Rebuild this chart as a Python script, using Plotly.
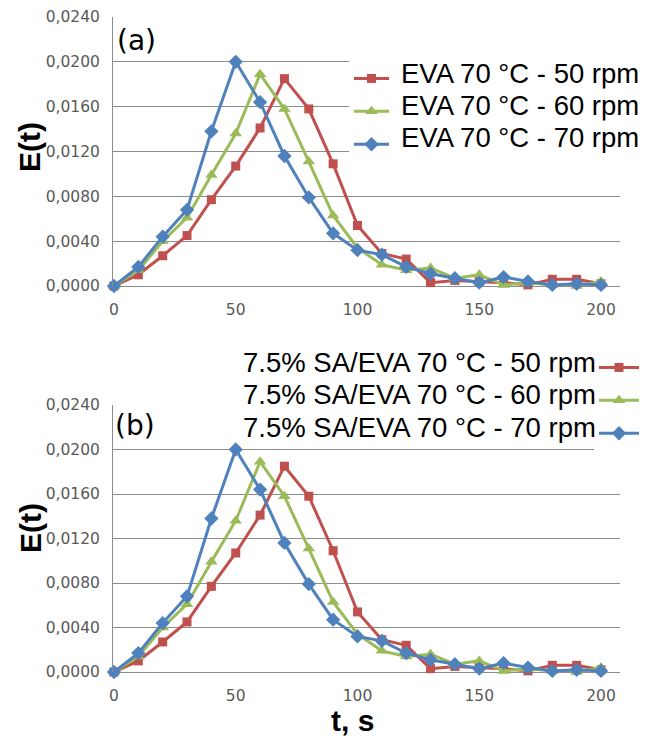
import plotly.graph_objects as go

# ---- data ----
t_s = [0, 10, 20, 30, 40, 50, 60, 70, 80, 90, 100, 110, 120, 130, 140, 150, 160, 170, 180, 190, 200]
e_50rpm = [0.0000, 0.0010, 0.0027, 0.0045, 0.0077, 0.0107, 0.0141, 0.0185, 0.0158, 0.0109, 0.0054,
           0.0029, 0.0024, 0.0003, 0.0005, 0.0004, 0.0003, 0.0001, 0.0006, 0.0006, 0.0002]
e_60rpm = [0.0000, 0.0014, 0.0040, 0.0061, 0.0099, 0.0136, 0.0189, 0.0158, 0.0111, 0.0063, 0.0034,
           0.0019, 0.0014, 0.0016, 0.0007, 0.0010, 0.0001, 0.0003, 0.0001, 0.0000, 0.0004]
e_70rpm = [0.0000, 0.0017, 0.0044, 0.0068, 0.0138, 0.0200, 0.0164, 0.0116, 0.0079, 0.0047, 0.0032,
           0.0028, 0.0017, 0.0011, 0.0007, 0.0003, 0.0008, 0.0004, 0.0001, 0.0002, 0.0001]

names_a = ["EVA 70 °C - 50 rpm", "EVA 70 °C - 60 rpm", "EVA 70 °C - 70 rpm"]
names_b = ["7.5% SA/EVA 70 °C - 50 rpm", "7.5% SA/EVA 70 °C - 60 rpm", "7.5% SA/EVA 70 °C - 70 rpm"]
y_ticks = [0.0, 0.004, 0.008, 0.012, 0.016, 0.020, 0.024]
x_ticks = [0, 50, 100, 150, 200]

series = [e_50rpm, e_60rpm, e_70rpm]
colors = ["#C0504D", "#9BBB59", "#4F81BD"]
symbols = ["square", "triangle-up", "diamond"]
msizes = [9, 11, 11]

W, H = 660, 740
def px(x): return x / W
def py(y): return 1 - y / H

fig = go.Figure()
for i in range(3):
    fig.add_trace(go.Scatter(x=t_s, y=series[i], name=" ", mode="lines+markers",
                             line=dict(color=colors[i], width=3),
                             marker=dict(symbol=symbols[i], size=msizes[i], color=colors[i]),
                             cliponaxis=False, xaxis="x", yaxis="y", legend="legend",
                             hovertemplate=names_a[i] + "<br>t=%{x} s<br>E=%{y}<extra></extra>"))
for i in range(3):
    fig.add_trace(go.Scatter(x=t_s, y=series[i], name=" ", mode="lines+markers",
                             line=dict(color=colors[i], width=3),
                             marker=dict(symbol=symbols[i], size=msizes[i], color=colors[i]),
                             cliponaxis=False, xaxis="x2", yaxis="y2", legend="legend2",
                             hovertemplate=names_b[i] + "<br>t=%{x} s<br>E=%{y}<extra></extra>"))

tickfont = dict(family="DejaVu Sans", size=15.5, color="#595959")
xcommon = dict(range=[-0.4, 207.8], tickvals=x_ticks, showgrid=False, zeroline=False,
               showline=False, ticks="", tickfont=tickfont, ticklabelstandoff=12,
               domain=[px(113), px(620)])
ycommon = dict(range=[0, 0.024], tickvals=y_ticks, tickformat=".4f", showgrid=True,
               gridcolor="#8C8C8C", gridwidth=1, zeroline=True, zerolinecolor="#8C8C8C",
               zerolinewidth=1, showline=True, linecolor="#8C8C8C", linewidth=1, ticks="",
               tickfont=tickfont, ticklabelstandoff=9)

fig.update_layout(
    width=W, height=H, margin=dict(l=0, r=0, t=0, b=0, autoexpand=False),
    paper_bgcolor="white", plot_bgcolor="white", separators=",.",
    xaxis=dict(**xcommon, anchor="y"),
    yaxis=dict(**ycommon, domain=[py(286), py(17)], anchor="x"),
    xaxis2=dict(**xcommon, anchor="y2"),
    yaxis2=dict(**ycommon, domain=[py(672), py(405)], anchor="x2"),
    legend=dict(x=px(349), y=py(57), xanchor="left", yanchor="top", bgcolor="white",
                font=dict(family="Liberation Sans", size=23, color="black"),
                borderwidth=0, tracegroupgap=0, itemwidth=35),
    legend2=dict(x=px(594), y=py(346), xanchor="left", yanchor="top", bgcolor="white",
                 font=dict(family="Liberation Sans", size=23, color="black"),
                 borderwidth=0, tracegroupgap=0, itemwidth=40),
    showlegend=True,
)

ann = []
rows_a = [73, 105, 137]
for i in range(3):
    ann.append(dict(text=names_a[i], x=px(399), y=py(rows_a[i]), xref="paper", yref="paper",
                    xanchor="left", yanchor="middle", showarrow=False, bgcolor="white",
                    font=dict(family="Liberation Sans", size=27.5, color="black")))
rows_b = [362, 394, 427]
for i in range(3):
    ann.append(dict(text=names_b[i], x=px(598), y=py(rows_b[i]), xref="paper", yref="paper",
                    xanchor="right", yanchor="middle", showarrow=False, bgcolor="white",
                    font=dict(family="Liberation Sans", size=27.5, color="black")))
ann.append(dict(text="(a)", x=px(115), y=py(41), xref="paper", yref="paper", xanchor="left",
                yanchor="middle", showarrow=False,
                font=dict(family="DejaVu Sans", size=28, color="black")))
ann.append(dict(text="(b)", x=px(113), y=py(425), xref="paper", yref="paper", xanchor="left",
                yanchor="middle", showarrow=False,
                font=dict(family="DejaVu Sans", size=28, color="black")))
for yc in [147, 528]:
    ann.append(dict(text="<b>E(t)</b>", x=px(30), y=py(yc), xref="paper", yref="paper",
                    xanchor="center", yanchor="middle", textangle=-90, showarrow=False,
                    font=dict(family="Liberation Sans", size=30, color="black")))
ann.append(dict(text="<b>t, s</b>", x=px(352), y=py(720), xref="paper", yref="paper",
                xanchor="center", yanchor="middle", showarrow=False,
                font=dict(family="Liberation Sans", size=30, color="black")))
fig.update_layout(annotations=ann)

fig.write_html("out.html", config={"displayModeBar": False},
               post_script="document.body.style.margin='0';document.body.style.overflow='hidden';")
